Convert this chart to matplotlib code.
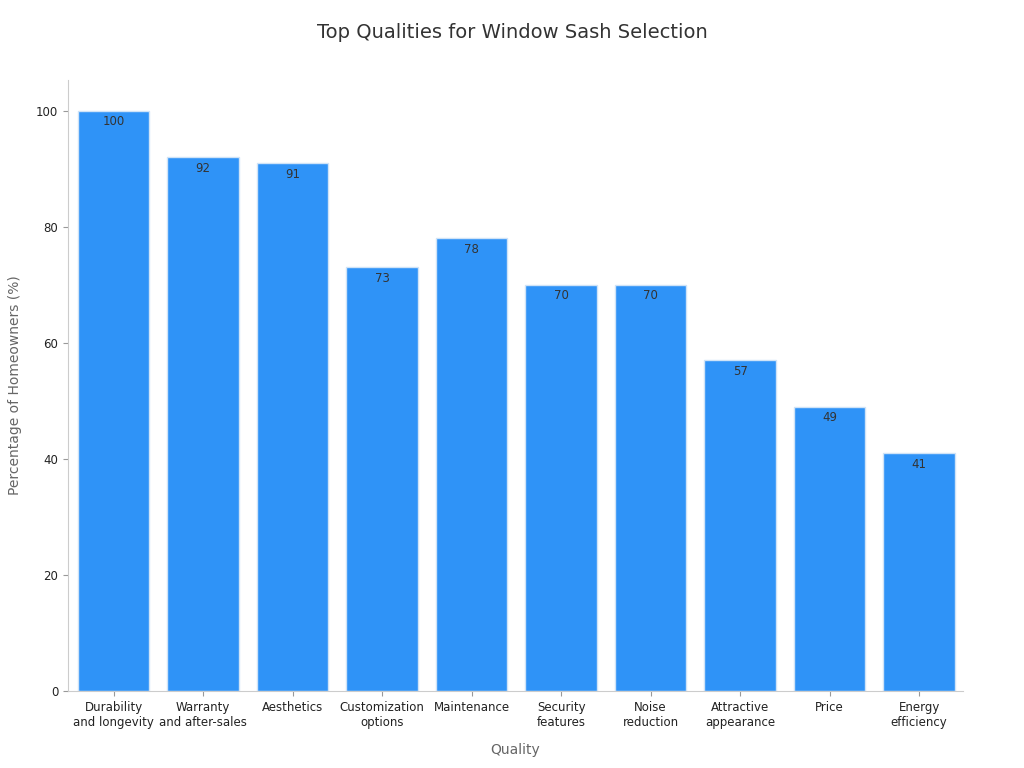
import matplotlib.pyplot as plt

categories = ['Durability\nand longevity', 'Warranty\nand after-sales', 'Aesthetics',
              'Customization\noptions', 'Maintenance', 'Security\nfeatures', 'Noise\nreduction',
              'Attractive\nappearance', 'Price', 'Energy\nefficiency']
values = [100, 92, 91, 73, 78, 70, 70, 57, 49, 41]

fig = plt.figure(figsize=(10.24, 7.68), dpi=100)
ax = fig.add_axes([68/1024, 1 - 691/768, (963-68)/1024, (691-80)/768])

x = range(len(values))
bars = ax.bar(x, values, width=0.8, color='#2f93f7', edgecolor='#cfe3f7', linewidth=1)
for xi, v in zip(x, values):
    ax.text(xi, v - 0.8, str(v), ha='center', va='top', fontsize=8.5, color='#333333')

ax.set_xlim(-0.51, 9.49)
ax.set_ylim(0, 105.3)
ax.set_yticks([0, 20, 40, 60, 80, 100])
ax.set_xticks(list(x))
ax.set_xticklabels(categories, fontsize=8.5, color='#222222')
ax.tick_params(axis='y', labelsize=8.5, colors='#222222')
ax.tick_params(axis='both', color='#999999')
for s in ['top', 'right']:
    ax.spines[s].set_visible(False)
for s in ['left', 'bottom']:
    ax.spines[s].set_color('#cccccc')

ax.set_xlabel('Quality', fontsize=10, color='#666666', labelpad=10)
ax.set_ylabel('Percentage of Homeowners (%)', fontsize=10, color='#666666', labelpad=10)
fig.text(0.5, 1 - 33/768, 'Top Qualities for Window Sash Selection', ha='center', va='center',
         fontsize=14, color='#333333')

fig.savefig('out.png')
